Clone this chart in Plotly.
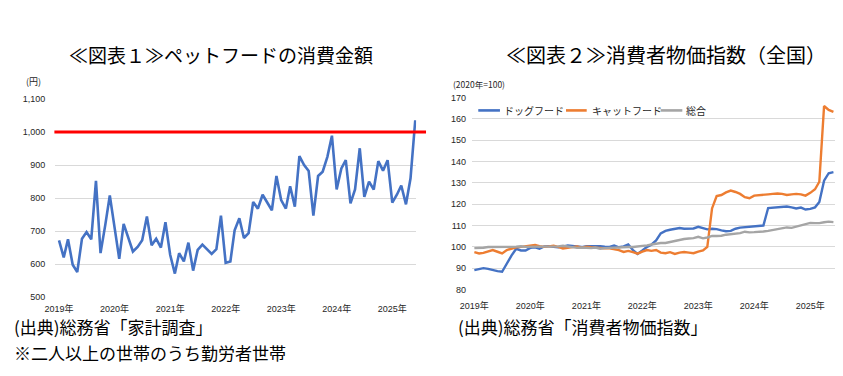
import plotly.graph_objects as go

W, H = 843, 376

# ---- data ----
months = [f"{y}-{m:02d}-01" for y in range(2019, 2026) for m in range(1, 13)][:78]

pet_food_spend = [
    672, 620, 675, 598, 576, 677, 697, 675, 852, 633, 718, 808,
    712, 616, 722, 682, 638, 652, 672, 744, 657, 677, 650, 727,
    628, 571, 633, 608, 665, 580, 643, 659, 645, 631, 645, 747,
    604, 608, 702, 739, 679, 694, 788, 768, 810, 786, 763, 867,
    794, 768, 836, 774, 927, 900, 882, 747, 867, 880, 925, 989,
    826, 890, 915, 784, 826, 951, 804, 850, 826, 912, 883, 915,
    786, 811, 838, 781, 860, 1036,
]

dog_food = [
    89.1, 89.4, 90.0, 89.7, 89.1, 88.6, 88.3, 92.5, 96.0, 99.1, 98.3, 98.3,
    99.5, 99.8, 99.1, 100.2, 100.3, 100.0, 99.8, 100.1, 100.6, 100.4, 100.1, 99.9,
    100.3, 100.4, 100.2, 100.3, 100.1, 100.0, 100.6, 99.8, 100.2, 101.1, 98.5, 96.7,
    98.3, 100.0, 101.0, 103.0, 106.3, 107.5, 108.0, 108.5, 108.8, 108.5, 108.5, 108.6,
    109.4, 108.9, 108.2, 108.5, 108.3, 107.7, 107.3, 107.5, 108.5, 109.0, 109.2, 109.3,
    109.4, 109.6, 110.0, 118.2, 118.4, 118.6, 118.8, 118.9, 118.5, 118.0, 118.4, 117.5,
    117.8, 118.5, 121.0, 131.0, 134.5, 135.0,
]

cat_food = [
    97.5, 96.9, 97.2, 97.7, 98.5, 97.7, 96.9, 98.5, 99.2, 99.8, 100.0, 100.3,
    100.3, 100.9, 100.3, 100.0, 100.2, 100.5, 100.0, 99.2, 99.5, 99.8, 100.2, 99.6,
    100.1, 99.8, 99.6, 99.5, 99.3, 99.3, 98.8, 98.5, 97.6, 98.1, 97.5, 96.8,
    97.8, 98.5, 98.1, 98.5, 97.3, 97.0, 97.5, 96.7, 97.3, 97.6, 97.3, 97.0,
    97.8, 98.3, 100.0, 118.0, 123.8, 124.3, 125.5, 126.4, 125.7, 124.8, 123.3, 122.8,
    124.0, 124.3, 124.5, 124.6, 124.8, 125.0, 124.8, 124.3, 124.6, 124.8, 124.6, 124.0,
    125.3, 127.0, 130.5, 166.0, 164.2, 163.3,
]

cpi_all = [
    99.4, 99.4, 99.6, 99.9, 99.9, 99.7, 99.7, 99.8, 100.0, 100.1, 100.3, 100.0,
    100.0, 99.9, 100.0, 100.1, 100.0, 100.2, 100.2, 100.5, 100.1, 99.8, 99.5, 99.7,
    99.6, 99.4, 99.7, 99.1, 99.4, 99.5, 99.7, 99.9, 100.1, 99.9, 99.9, 100.1,
    100.3, 100.7, 101.1, 101.5, 101.8, 101.8, 102.3, 102.7, 103.1, 103.7, 103.9, 104.1,
    104.7, 104.0, 104.4, 105.1, 105.1, 105.2, 105.7, 106.0, 106.2, 106.4, 107.1, 106.8,
    106.9, 106.9, 107.2, 107.5, 107.9, 108.2, 108.6, 109.1, 108.9, 109.5, 110.0, 110.7,
    111.2, 111.1, 111.1, 111.5, 111.8, 111.6,
]

year_ticks = [f"{y}-01-01" for y in range(2019, 2026)]
year_labels = [f"{y}年" for y in range(2019, 2026)]
legend_names = ["ドッグフード", "キャットフード", "総合"]
threshold = 1000

BLUE, ORANGE, GRAY, RED = "#4472C4", "#ED7D31", "#A5A5A5", "#FF0000"
FONT = "Liberation Sans, Noto Sans CJK JP, sans-serif"
JFONT = "Noto Sans CJK JP, sans-serif"
GRID = "#D9D9D9"
TICK = dict(family=FONT, size=9, color="#262626")


def px(x):
    return x / W


def py(y):
    return 1 - y / H


fig = go.Figure()

fig.add_trace(go.Scatter(x=months, y=pet_food_spend, mode="lines",
                         line=dict(color=BLUE, width=2.6), xaxis="x", yaxis="y",
                         showlegend=False))
for name, vals, col in zip(legend_names, [dog_food, cat_food, cpi_all], [BLUE, ORANGE, GRAY]):
    fig.add_trace(go.Scatter(x=months, y=vals, mode="lines", name=name,
                             line=dict(color=col, width=2.4), xaxis="x2", yaxis="y2",
                             showlegend=False))

fig.update_layout(
    width=W, height=H, margin=dict(l=0, r=0, t=0, b=0),
    paper_bgcolor="white", plot_bgcolor="white",
    xaxis=dict(domain=[px(44), px(410)], type="date", range=["2018-12-08", "2025-06-07"],
               tickvals=year_ticks, ticktext=year_labels, showgrid=False,
               showline=False, zeroline=False, ticks="", tickfont=TICK, anchor="y",
               ticklabelstandoff=5),
    yaxis=dict(domain=[py(300), py(96.7)], range=[500, 1100], dtick=100,
               tickformat=",", showgrid=True, gridcolor=GRID, gridwidth=1,
               zeroline=False, showline=False, ticks="", tickfont=TICK, anchor="x",
               ticklabelstandoff=9),
    xaxis2=dict(domain=[px(466.7), px(835)], type="date", range=["2018-12-17", "2025-06-12"],
                tickvals=year_ticks, ticktext=year_labels, showgrid=False,
                showline=False, zeroline=False, ticks="", tickfont=TICK, anchor="y2",
                ticklabelstandoff=9),
    yaxis2=dict(domain=[py(292.3), py(95)], range=[80, 170], dtick=10,
                showgrid=True, gridcolor=GRID, gridwidth=1,
                zeroline=False, showline=False, ticks="", tickfont=TICK, anchor="x2",
                ticklabelstandoff=5),
)

# red threshold line (left chart)
fig.add_shape(type="line", xref="paper", yref="y", x0=px(43), x1=px(420),
              y0=threshold, y1=threshold, line=dict(color=RED, width=3))

# manual legend for right chart
leg_y = py(108.3)
for (x0, x1, tx), name, col in zip([(473, 495, 497), (562, 583, 586), (658, 680, 682)],
                                    legend_names, [BLUE, ORANGE, GRAY]):
    fig.add_shape(type="line", xref="paper", yref="paper", x0=px(x0), x1=px(x1),
                  y0=leg_y, y1=leg_y, line=dict(color=col, width=2.6))
    fig.add_annotation(xref="paper", yref="paper", x=px(tx), y=leg_y, text=name,
                       showarrow=False, xanchor="left", yanchor="middle",
                       font=dict(family=JFONT, size=10, color="#262626"))

texts = [
    ("≪図表１≫ペットフードの消費金額", 212, 51, "center", 19, "black"),
    ("≪図表２≫消費者物価指数（全国）", 663, 51, "center", 20, "black"),
    ("(円)", 12, 79, "left", 9, "#262626"),
    ("(2020年=100)", 445, 81, "left", 8.5, "#262626"),
    ("(出典)総務省「家計調査」", 0, 330, "left", 17, "black"),
    ("※二人以上の世帯のうち勤労者世帯", 0, 357, "left", 17, "black"),
    ("(出典)総務省「消費者物価指数」", 450, 330, "left", 17, "black"),
]
for t, x, y, anc, size, col in texts:
    fig.add_annotation(xref="paper", yref="paper", x=px(x), y=py(y), text=t,
                       showarrow=False, xanchor=anc, yanchor="middle",
                       font=dict(family=JFONT, size=size, color=col))

fig.write_html("out.html", config={"displayModeBar": False},
               post_script="document.body.style.margin='0';")
